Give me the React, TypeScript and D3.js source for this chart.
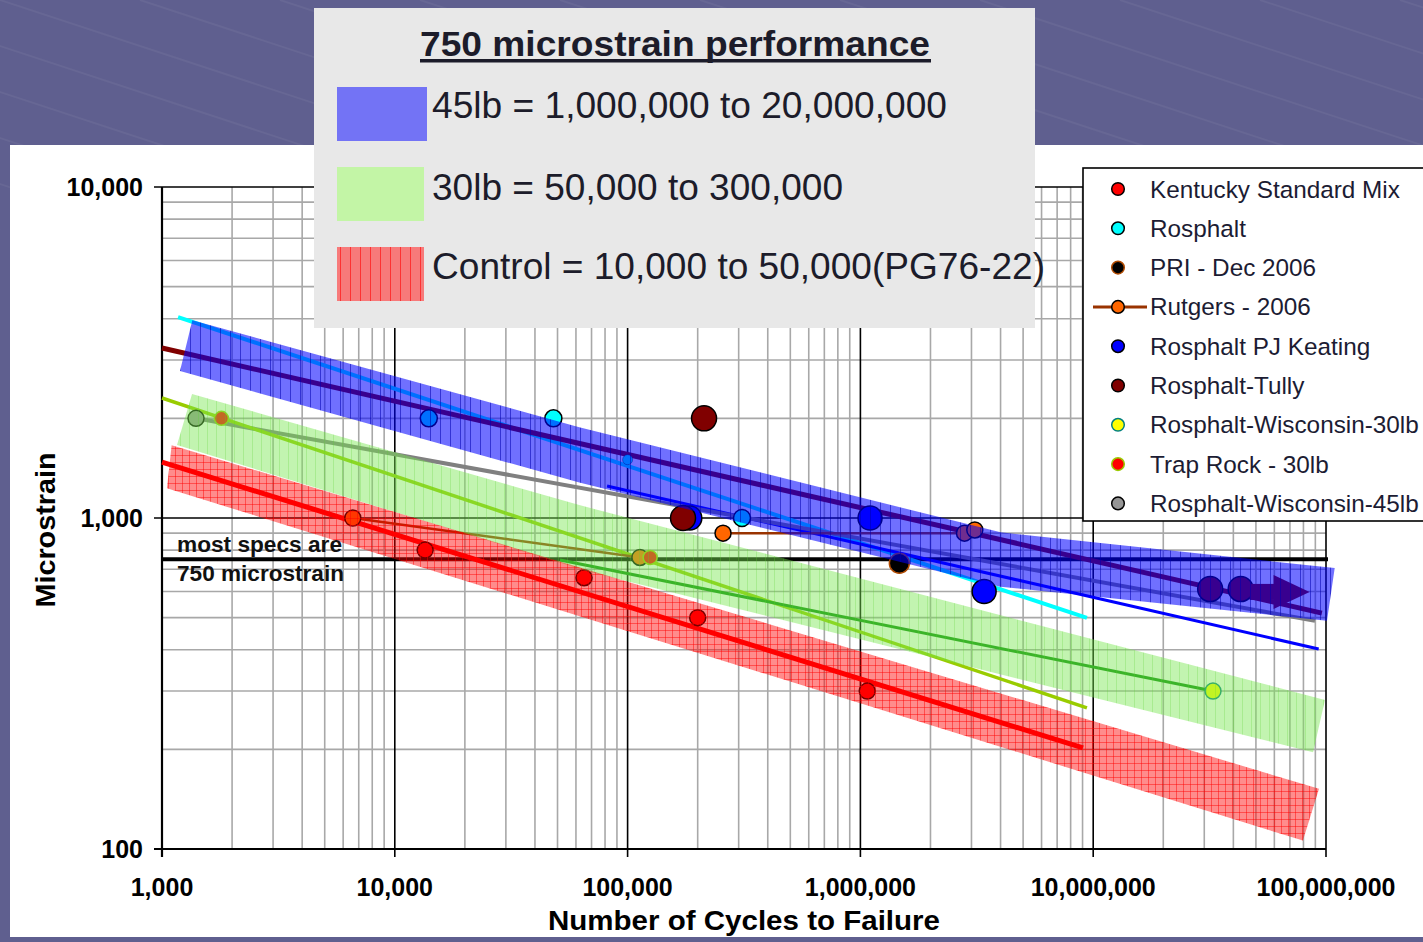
import React from 'react';
import * as d3 from 'd3';

type Pt = [number, number];

// axis
const xMajor = [1e3, 1e4, 1e5, 1e6, 1e7, 1e8];
const yMajor = [100, 1000, 10000];
const specLimit = 750;

// performance bands, corners in (cycles, microstrain)
const band45: Pt[] = [[1350, 3960], [62000, 1880], [4.0e6, 905], [1.09e8, 706], [1.01e8, 489], [4.0e6, 620], [62000, 1280], [1195, 2780]];
const band30: Pt[] = [[1346, 2370], [62000, 1094], [9.9e7, 282], [8.8e7, 196], [69000, 687], [1160, 1662]];
const bandControl: Pt[] = [[1100, 1660], [9.33e7, 152], [7.96e7, 106], [1050, 1230]];

// trend lines
const trendKentucky: Pt[] = [[1000, 1475], [9.04e6, 202]];
const trendRosphalt: Pt[] = [[1172, 4046], [9.4e6, 499]];
const trendTully: Pt[] = [[1000, 3263], [9.6e7, 516]];
const trendKeating: Pt[] = [[81600, 1250], [9.3e7, 402]];
const trendWisc45: Pt[] = [[1386, 2004], [8.97e7, 489]];
const trendTrapRock: Pt[] = [[1000, 2304], [9.4e6, 267]];
const trendWisc30: Pt[] = [[51250, 747], [3.27e7, 300]];

// measured points
const kentucky: Pt[] = [[13500, 800], [65000, 660], [200000, 500], [1070000, 300]];
const rosphalt: Pt[] = [[14000, 2000], [48000, 2000], [310000, 1000]];
const rosphaltSmall: Pt[] = [[100000, 1500]];
const pri: Pt[] = [[1470000, 730]];
const rutgersEarly: Pt[] = [[6600, 1000], [113000, 760]];
const rutgersLate: Pt[] = [[257000, 900], [2800000, 900], [3100000, 920]];
const keating: Pt[] = [[185000, 1000], [1100000, 1000], [3400000, 600]];
const tully: Pt[] = [[213000, 2000], [173000, 1000], [3.18e7, 610], [4.3e7, 610]];
const wisc30: Pt[] = [[3.27e7, 300]];
const trapRock: Pt[] = [[1800, 2000], [125000, 760]];
const wisc45: Pt[] = [[1400, 2000]];
const tullyArrow: Pt[] = [[4.7e7, 598], [8.5e7, 598]];

const seriesNames = [
  'Kentucky Standard Mix', 'Rosphalt', 'PRI - Dec 2006', 'Rutgers - 2006', 'Rosphalt PJ Keating',
  'Rosphalt-Tully', 'Rosphalt-Wisconsin-30lb', 'Trap Rock - 30lb', 'Rosphalt-Wisconsin-45lb',
];

const bandLabels = ['45lb = 1,000,000 to 20,000,000', '30lb = 50,000 to 300,000', 'Control = 10,000 to 50,000(PG76-22)'];

const FONT = '"Liberation Sans", Arial, sans-serif';

export default function App() {
  const x = d3.scaleLog().domain([1e3, 1e8]).range([162, 1326]);
  const y = d3.scaleLog().domain([100, 1e4]).range([849, 187]);
  const line = d3.line<Pt>().x(d => x(d[0])).y(d => y(d[1]));
  const poly = (pts: Pt[]) => line(pts) + 'Z';
  const fmt = d3.format(',');

  const xMinor = x.ticks().filter(t => !xMajor.includes(t));
  const yMinor = y.ticks().filter(t => !yMajor.includes(t));

  const series = [
    { pts: [kentucky], fill: '#ff0000', stroke: '#000', r: 8 },
    { pts: [rosphalt], fill: '#00ffff', stroke: '#000', r: 8.5, small: rosphaltSmall },
    { pts: [pri], fill: '#000000', stroke: '#b04a00', r: 10 },
    { pts: [rutgersEarly, rutgersLate], fill: '#ff6600', stroke: '#000', r: 8, line: '#993300' },
    { pts: [keating], fill: '#0000ff', stroke: '#000', r: 12 },
    { pts: [tully], fill: '#800000', stroke: '#000', r: 12.5 },
    { pts: [wisc30], fill: '#ffff00', stroke: '#008080', r: 8 },
    { pts: [trapRock], fill: '#ff0000', stroke: '#99cc00', r: 7 },
    { pts: [wisc45], fill: '#969696', stroke: '#000', r: 8 },
  ];

  const trends = [
    { pts: trendRosphalt, c: '#00ffff', w: 4 },
    { pts: trendTully, c: '#800000', w: 5 },
    { pts: trendKeating, c: '#0000ff', w: 3 },
    { pts: trendWisc45, c: '#808080', w: 4 },
    { pts: trendTrapRock, c: '#99cc00', w: 3.5 },
    { pts: trendWisc30, c: '#0a8a0a', w: 3 },
    { pts: trendKentucky, c: '#ff0000', w: 5 },
  ];

  const [aT, aH] = tullyArrow;
  const ax0 = x(aT[0]), ax1 = x(aH[0]), ay = y(aH[1]);

  const bgLines = d3.range(-6, 12);

  return (
    <div>
      <style>{`body{margin:0;background:#5f5f8f}`}</style>
      <svg width={1423} height={942} style={{ display: 'block' }} fontFamily={FONT}>
        <defs>
          <pattern id="p45" patternUnits="userSpaceOnUse" width={10} height={10}>
            <rect width={10} height={10} fill="#0000ff" fillOpacity={0.56} />
            <line x1={0.5} y1={0} x2={0.5} y2={10} stroke="#0000b0" strokeOpacity={0.55} />
          </pattern>
          <pattern id="p30" patternUnits="userSpaceOnUse" width={9} height={9}>
            <rect width={9} height={9} fill="#78e650" fillOpacity={0.45} />
            <line x1={0.5} y1={0} x2={0.5} y2={9} stroke="#5ad030" strokeOpacity={0.25} />
          </pattern>
          <pattern id="pCtl" patternUnits="userSpaceOnUse" width={7} height={7}>
            <rect width={7} height={7} fill="#ff0000" fillOpacity={0.45} />
            <line x1={0.5} y1={0} x2={0.5} y2={7} stroke="#ff0000" strokeOpacity={0.45} />
            <line x1={0} y1={0.5} x2={7} y2={0.5} stroke="#ff0000" strokeOpacity={0.45} />
          </pattern>
          <pattern id="pCtlSw" patternUnits="userSpaceOnUse" width={10} height={10}>
            <rect width={10} height={10} fill="#f77a7a" />
            <line x1={0.5} y1={0} x2={0.5} y2={10} stroke="#ff2020" strokeOpacity={0.8} />
          </pattern>
        </defs>

        {/* slide background */}
        <rect width={1423} height={942} fill="#5f5f8f" />
        {bgLines.map(i => (
          <line key={i} x1={i * 140} y1={0} x2={i * 140 + 700} y2={230} stroke="#ffffff" strokeOpacity={0.05} strokeWidth={2} />
        ))}
        <rect x={10} y={145} width={1413} height={792} fill="#ffffff" />

        {/* grid */}
        {xMinor.map(t => (
          <line key={'xm' + t} x1={x(t)} x2={x(t)} y1={187} y2={849} stroke="#a8a8a8" strokeWidth={1.6} />
        ))}
        {yMinor.map(t => (
          <line key={'ym' + t} x1={162} x2={1326} y1={y(t)} y2={y(t)} stroke="#a8a8a8" strokeWidth={1.6} />
        ))}
        {xMajor.map(t => (
          <line key={'xM' + t} x1={x(t)} x2={x(t)} y1={187} y2={857} stroke="#000" strokeWidth={1.6} />
        ))}
        {yMajor.map(t => (
          <line key={'yM' + t} x1={154} x2={1326} y1={y(t)} y2={y(t)} stroke="#000" strokeWidth={1.6} />
        ))}
        <line x1={162} x2={162} y1={187} y2={857} stroke="#000" strokeWidth={2.2} />
        <line x1={154} x2={1326} y1={849} y2={849} stroke="#000" strokeWidth={2.2} />

        {/* spec limit */}
        <line x1={162} x2={1328} y1={y(specLimit)} y2={y(specLimit)} stroke="#000" strokeWidth={4} />

        {/* trend lines */}
        {trends.map((t, i) => (
          <path key={'t' + i} d={line(t.pts) || ''} fill="none" stroke={t.c} strokeWidth={t.w} />
        ))}

        {/* series */}
        {series.map((s, i) => (
          <g key={'s' + i}>
            {s.line && s.pts.map((seg, j) => (
              <path key={j} d={line(seg) || ''} fill="none" stroke={s.line} strokeWidth={2.5} />
            ))}
            {s.pts.flat().map((p, j) => (
              <circle key={j} cx={x(p[0])} cy={y(p[1])} r={s.r} fill={s.fill} stroke={s.stroke} strokeWidth={1.5} />
            ))}
            {s.small && s.small.map((p, j) => (
              <circle key={'sm' + j} cx={x(p[0])} cy={y(p[1])} r={5} fill={s.fill} stroke={s.stroke} strokeWidth={1} strokeOpacity={0.4} />
            ))}
          </g>
        ))}

        {/* Tully arrow */}
        <line x1={ax0} x2={ax1 - 30} y1={ay} y2={ay} stroke="#800000" strokeWidth={16} />
        <path d={`M${ax1},${ay}L${ax1 - 36},${ay - 17}L${ax1 - 36},${ay + 17}Z`} fill="#800000" />

        {/* bands */}
        <path d={poly(band30)} fill="url(#p30)" />
        <path d={poly(bandControl)} fill="url(#pCtl)" />
        <path d={poly(band45)} fill="url(#p45)" />

        {/* annotation */}
        <text x={177} y={552} fontSize={22} fontWeight="bold" fill="#111" textLength={165} lengthAdjust="spacingAndGlyphs">most specs are</text>
        <text x={177} y={581} fontSize={22} fontWeight="bold" fill="#111" textLength={167} lengthAdjust="spacingAndGlyphs">750 microstrain</text>

        {/* tick labels */}
        {xMajor.map(t => (
          <text key={'xl' + t} x={x(t)} y={896} fontSize={25} fontWeight="bold" textAnchor="middle" fill="#000">{fmt(t)}</text>
        ))}
        {yMajor.map(t => (
          <text key={'yl' + t} x={143} y={y(t) + 9} fontSize={25} fontWeight="bold" textAnchor="end" fill="#000">{fmt(t)}</text>
        ))}
        <text x={744} y={930} fontSize={28} fontWeight="bold" textAnchor="middle" fill="#000" textLength={392} lengthAdjust="spacingAndGlyphs">Number of Cycles to Failure</text>
        <text transform="translate(55,530) rotate(-90)" fontSize={28} fontWeight="bold" textAnchor="middle" fill="#000" textLength={155} lengthAdjust="spacingAndGlyphs">Microstrain</text>

        {/* band legend */}
        <rect x={314} y={8} width={721} height={320} fill="#e8e8e8" />
        <text x={420} y={56} fontSize={35} fontWeight="bold" fill="#1c1c2a" textLength={510} lengthAdjust="spacingAndGlyphs">750 microstrain performance</text>
        <rect x={420} y={59} width={511} height={3.5} fill="#1c1c2a" />
        <rect x={337} y={87} width={90} height={54} fill="#7373f5" />
        <rect x={337} y={167} width={87} height={54} fill="#c3f5a6" />
        <rect x={337} y={247} width={87} height={54} fill="url(#pCtlSw)" />
        {bandLabels.map((t, i) => (
          <text key={t} x={432} y={[118, 200, 279][i]} fontSize={36} fill="#1c1c2a"
            textLength={[515, 411, 613][i]} lengthAdjust="spacingAndGlyphs">{t}</text>
        ))}

        {/* series legend */}
        <rect x={1083} y={168} width={360} height={353} fill="#fff" stroke="#000" strokeWidth={1.6} />
        {seriesNames.map((n, i) => {
          const ry = 189 + i * 39.3;
          const s = series[i];
          return (
            <g key={n}>
              {s.line && <line x1={1093} x2={1147} y1={ry} y2={ry} stroke={s.line} strokeWidth={3} />}
              <circle cx={1118} cy={ry} r={6.3} fill={s.fill} stroke={s.stroke} strokeWidth={1.5} />
              <text x={1150} y={ry + 8.5} fontSize={24.3} fill="#1c1c33">{n}</text>
            </g>
          );
        })}
      </svg>
    </div>
  );
}
